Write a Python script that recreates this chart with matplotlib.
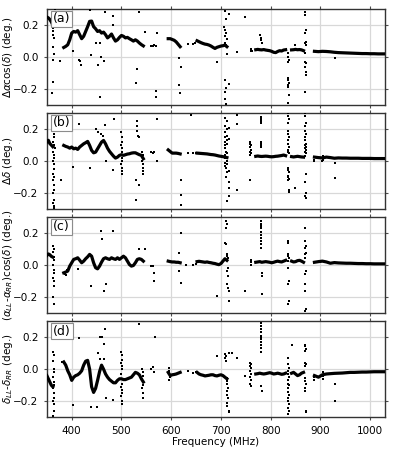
import numpy as np
import matplotlib
matplotlib.use('Agg')
import matplotlib.pyplot as plt

# Frequencies (MHz) of the continuous (dense) tracks; None separates segments
curve_freq = [350, 353, 356, 359, 362, None,
              384, 388, 392, 396, 400, 404, 408, 412, 416, 420, 424, 428, 432, 436,
              440, 444, 448, 452, 456, 460, 464, 468, 472, 476, 480, 484, 488, 492,
              496, 500, 504, 508, 512, 516, 520, 524, 528, 532, 536, 540, 544, None,
              594, 598, 602, 606, 610, 614, 618, None,
              652, 656, 660, 664, 668, 672, 676, 680, 684, 688, 692, 696, 700, 704, 708, 712, None,
              770, 774, 778, 782, 786, 790, 794, 798, 802, 806, 810, 814, 818, 822, 826, 830, None,
              842, 846, 850, 854, 858, 862, 866, None,
              888, 896, 904, 912, 920, 928, 936, 944, 952, 960, 968, 976, 984, 992, 1000,
              1008, 1016, 1024, 1028]

a_curve = [0.25, 0.245, 0.235, 0.22, 0.20, None,
           0.060, 0.067, 0.077, 0.108, 0.150, 0.160, 0.156, 0.165, 0.140, 0.115, 0.130, 0.160,
           0.190, 0.223, 0.225, 0.190, 0.177, 0.160, 0.165, 0.150, 0.156, 0.140, 0.120, 0.130,
           0.144, 0.120, 0.100, 0.108, 0.123, 0.135, 0.130, 0.120, 0.123, 0.115, 0.108, 0.100,
           0.108, 0.100, 0.088, 0.078, 0.070, None,
           0.115, 0.115, 0.110, 0.105, 0.095, 0.080, 0.065, None,
           0.102, 0.096, 0.090, 0.085, 0.081, 0.079, 0.075, 0.069, 0.061, 0.054, 0.061, 0.065,
           0.069, 0.071, 0.075, 0.065, None,
           0.046, 0.048, 0.046, 0.045, 0.047, 0.044, 0.042, 0.040, 0.036, 0.030, 0.028, 0.035,
           0.040, 0.038, 0.044, 0.046, None,
           0.045, 0.046, 0.048, 0.046, 0.047, 0.045, 0.040, None,
           0.036, 0.034, 0.036, 0.035, 0.033, 0.030, 0.028, 0.027, 0.026, 0.025, 0.024, 0.023,
           0.022, 0.022, 0.021, 0.021, 0.020, 0.020, 0.020]

b_curve = [0.12, 0.13, 0.11, 0.10, 0.09, None,
           0.098, 0.092, 0.088, 0.081, 0.088, 0.077, 0.081, 0.073, 0.088, 0.098, 0.108, 0.115,
           0.123, 0.098, 0.067, 0.052, 0.056, 0.077, 0.098, 0.119, 0.129, 0.108, 0.081, 0.061,
           0.046, 0.031, 0.019, 0.025, 0.036, 0.040, 0.036, 0.040, 0.044, 0.046, 0.050, 0.052,
           0.052, 0.046, 0.040, 0.036, 0.015, None,
           0.070, 0.060, 0.050, 0.050, 0.050, 0.048, 0.045, None,
           0.050, 0.049, 0.048, 0.047, 0.046, 0.045, 0.043, 0.041, 0.040, 0.038, 0.035, 0.032,
           0.030, 0.028, 0.025, 0.022, None,
           0.030, 0.032, 0.030, 0.029, 0.030, 0.031, 0.030, 0.028, 0.027, 0.028, 0.030, 0.031,
           0.033, 0.035, 0.038, 0.034, None,
           0.028, 0.026, 0.028, 0.030, 0.028, 0.026, 0.025, None,
           0.025, 0.022, 0.020, 0.025, 0.022, 0.018, 0.020, 0.019, 0.019, 0.018, 0.018, 0.018,
           0.017, 0.017, 0.017, 0.016, 0.016, 0.016, 0.016]

c_curve = [0.06, 0.07, 0.065, 0.055, 0.05, None,
           -0.048, -0.043, -0.037, -0.006, 0.015, 0.036, 0.040, 0.046, 0.031, 0.015, 0.025, 0.040,
           0.052, 0.067, 0.056, 0.015, -0.016, -0.023, -0.006, 0.019, 0.040, 0.046, 0.040, 0.036,
           0.046, 0.040, 0.036, 0.046, 0.036, 0.046, 0.056, 0.046, 0.025, 0.004, -0.006, -0.002,
           0.015, 0.036, 0.040, 0.036, 0.025, None,
           0.025, 0.022, 0.020, 0.020, 0.018, 0.018, 0.015, None,
           0.022, 0.024, 0.022, 0.020, 0.018, 0.020, 0.017, 0.015, 0.012, 0.010, 0.006, 0.003,
           0.010, 0.025, 0.040, 0.030, None,
           0.018, 0.020, 0.022, 0.018, 0.020, 0.022, 0.020, 0.018, 0.015, 0.018, 0.022, 0.025,
           0.022, 0.020, 0.025, 0.030, None,
           0.025, 0.020, 0.022, 0.028, 0.030, 0.025, 0.018, None,
           0.018, 0.022, 0.025, 0.020, 0.012, 0.016, 0.014, 0.013, 0.012, 0.012, 0.011, 0.010,
           0.010, 0.009, 0.009, 0.008, 0.008, 0.008, 0.008]

d_curve = [-0.04, -0.06, -0.08, -0.10, -0.11, None,
           0.045, 0.025, -0.010, -0.035, -0.070, -0.050, -0.040, -0.035, -0.025, -0.010, 0.025,
           0.050, 0.055, 0.000, -0.110, -0.145, -0.120, -0.070, -0.015, 0.025, 0.000, -0.030,
           -0.050, -0.065, -0.075, -0.085, -0.085, -0.070, -0.060, -0.060, -0.065, -0.065,
           -0.060, -0.055, -0.050, -0.035, -0.020, -0.025, -0.035, -0.060, -0.080, None,
           -0.020, -0.040, -0.035, -0.033, -0.030, -0.025, -0.020, None,
           -0.020, -0.030, -0.035, -0.038, -0.042, -0.040, -0.038, -0.035, -0.035, -0.040,
           -0.042, -0.038, -0.035, -0.040, -0.050, -0.060, None,
           -0.030, -0.028, -0.025, -0.028, -0.030, -0.028, -0.025, -0.022, -0.025, -0.030,
           -0.028, -0.025, -0.028, -0.032, -0.030, -0.025, None,
           -0.025, -0.020, -0.030, -0.040, -0.035, -0.025, -0.020, None,
           -0.040, -0.050, -0.035, -0.030, -0.028, -0.026, -0.025, -0.024, -0.022, -0.020,
           -0.020, -0.019, -0.018, -0.018, -0.017, -0.016, -0.016, -0.016, -0.016]

# Scattered points (frequency MHz, value deg.)
a_dots = [(362, 0.18), (363, 0.16), (363, 0.14), (364, 0.12), (363, 0.06), (364, 0.02),
          (363, -0.02), (362, -0.155), (361, -0.225), (366, 0.30), (377, -0.027), (403, 0.036),
          (415, -0.016), (416, -0.027), (419, -0.05), (436, 0.296), (466, 0.281), (483, 0.254),
          (483, 0.198), (535, 0.279), (439, 0.015), (449, 0.087), (456, 0.087), (453, -0.048),
          (459, 0.0), (465, -0.023), (457, -0.25), (531, -0.075), (530, -0.162), (548, 0.156),
          (571, 0.15), (569, -0.21), (569, -0.247), (560, 0.07), (563, 0.072), (566, 0.075),
          (569, 0.07), (616, -0.008), (619, -0.06), (616, -0.174), (618, -0.226), (633, 0.079),
          (643, 0.08), (648, 0.085),
          (708, 0.29), (716, 0.27), (710, 0.24), (707, 0.19), (709, 0.17), (711, 0.15),
          (708, 0.13), (712, 0.11), (709, 0.09), (710, 0.075), (712, 0.02), (709, -0.14),
          (716, -0.17), (710, -0.19), (708, -0.22), (709, -0.26), (710, -0.29),
          (693, -0.029), (733, 0.033), (749, 0.248), (760, 0.05), (761, 0.04), (762, 0.035),
          (779, 0.138), (780, 0.122), (781, 0.106), (782, 0.086),
          (834, 0.023), (835, 0.002), (836, -0.019), (835, -0.029), (834, -0.133), (835, -0.143),
          (836, -0.164), (835, -0.174), (834, -0.185), (836, -0.237), (835, -0.289),
          (849, 0.075),
          (869, 0.283), (868, 0.262), (870, 0.169), (869, 0.148), (871, 0.096), (869, 0.085),
          (870, 0.075), (868, 0.023), (869, -0.029), (870, -0.039), (869, -0.06), (871, -0.091),
          (870, -0.112), (869, -0.216), (929, -0.008)]

b_dots = [(363, 0.20), (364, 0.17), (365, 0.15), (363, 0.12), (364, 0.10), (366, 0.08),
          (363, 0.06), (365, 0.04), (364, 0.02), (363, 0.0), (365, -0.02), (364, -0.05),
          (363, -0.08), (364, -0.10), (363, -0.12), (365, -0.15), (364, -0.18), (363, -0.20),
          (364, -0.24), (363, -0.26), (364, -0.28), (365, -0.29), (378, -0.12),
          (415, 0.233), (448, 0.198), (466, 0.223), (485, 0.26), (531, 0.248), (531, 0.222),
          (532, 0.19), (533, 0.16), (535, 0.15), (571, 0.264), (453, 0.18), (459, 0.17),
          (463, 0.16), (403, -0.037), (437, -0.043), (468, 0.0), (483, -0.058),
          (500, 0.18), (501, 0.15), (502, 0.12), (500, 0.10), (501, 0.08), (502, 0.06),
          (500, 0.04), (501, 0.02), (502, 0.0), (500, -0.02), (501, -0.04), (502, -0.06),
          (501, -0.08), (529, -0.12), (529, -0.24), (535, -0.15), (571, 0.0),
          (542, 0.06), (543, 0.04), (544, 0.02), (542, 0.0), (543, -0.02), (544, -0.04),
          (543, -0.06), (544, -0.08), (560, 0.06), (563, 0.05), (566, 0.055),
          (619, -0.118), (619, -0.211), (619, -0.274), (639, 0.288), (633, 0.048), (643, 0.048),
          (650, 0.048),
          (708, 0.27), (712, 0.25), (709, 0.22), (716, 0.21), (712, 0.20), (708, 0.18),
          (712, 0.16), (709, 0.15), (716, 0.14), (712, 0.13), (708, 0.12), (712, 0.11),
          (709, 0.10), (708, 0.08), (710, 0.06), (712, 0.05), (709, 0.04), (708, 0.02),
          (712, 0.0), (709, -0.01), (712, -0.02), (708, -0.03), (711, -0.04), (716, -0.06),
          (712, -0.07), (711, -0.10), (716, -0.13), (716, -0.17), (716, -0.22), (713, -0.25),
          (733, 0.29), (733, 0.23), (733, -0.18), (693, 0.03),
          (759, 0.12), (759, 0.11), (760, 0.10), (759, 0.09), (760, 0.07), (759, 0.06),
          (760, 0.05), (759, 0.04), (759, -0.118),
          (780, 0.277), (781, 0.267), (780, 0.257), (781, 0.246), (780, 0.236), (781, 0.12),
          (780, 0.11), (781, 0.10), (780, 0.09),
          (835, 0.30), (834, 0.28), (836, 0.26), (835, 0.24), (834, 0.19), (835, 0.17),
          (836, 0.15), (834, 0.13), (835, 0.11), (836, 0.09), (835, 0.07), (834, 0.06),
          (836, 0.05), (834, -0.045), (835, -0.055), (836, -0.066), (834, -0.09), (835, -0.10),
          (836, -0.11), (835, -0.12), (837, -0.18), (836, -0.19), (849, -0.17),
          (869, 0.30), (868, 0.28), (870, 0.24), (869, 0.22), (868, 0.19), (870, 0.17),
          (869, 0.15), (868, 0.13), (870, 0.11), (869, 0.10), (871, 0.09), (868, 0.08),
          (870, 0.07), (869, 0.06), (871, 0.05), (869, 0.03), (870, -0.08), (869, -0.13),
          (870, -0.20), (869, -0.22), (871, -0.23),
          (929, -0.014), (929, -0.107), (888, 0.0), (888, 0.01), (903, 0.0), (905, 0.035),
          (906, 0.005)]

c_dots = [(363, 0.12), (364, 0.10), (363, 0.08), (365, 0.05), (364, 0.03), (363, 0.0),
          (365, -0.03), (364, -0.05), (363, -0.08), (365, -0.10), (364, -0.13), (363, -0.20),
          (364, -0.245), (399, 0.275), (458, 0.212), (461, 0.165), (483, 0.212), (536, 0.098),
          (548, 0.104), (438, -0.131), (468, -0.12), (465, -0.162), (566, -0.048), (566, -0.10),
          (412, -0.027), (388, -0.06), (386, -0.055), (390, -0.03), (560, -0.006), (563, -0.005),
          (619, 0.2), (616, 0.077), (616, -0.037), (619, -0.11), (629, 0.004), (643, 0.004),
          (650, 0.01),
          (710, 0.275), (712, 0.254), (711, 0.233), (709, 0.14), (710, 0.13), (712, 0.067),
          (713, 0.056), (714, 0.046), (715, -0.016), (713, -0.037), (714, -0.068), (712, -0.12),
          (714, -0.141), (716, -0.162), (716, -0.224),
          (749, -0.162), (693, -0.193), (760, 0.02), (760, 0.0), (761, 0.035),
          (780, 0.275), (781, 0.26), (780, 0.245), (781, 0.23), (780, 0.21), (781, 0.19),
          (780, 0.17), (781, 0.15), (780, 0.13), (781, 0.11), (782, -0.047), (783, -0.068),
          (782, -0.183),
          (834, 0.15), (835, 0.14), (834, 0.067), (835, 0.056), (836, 0.046), (834, 0.025),
          (835, -0.016), (836, -0.10), (835, -0.12), (836, -0.224), (835, -0.245),
          (869, 0.233), (868, 0.15), (870, 0.12), (869, 0.11), (870, 0.077), (869, 0.067),
          (868, 0.046), (870, -0.037), (869, -0.058), (868, -0.12), (869, -0.162),
          (870, -0.276), (869, -0.287)]

d_dots = [(363, 0.108), (364, 0.09), (363, 0.05), (365, 0.0), (364, -0.02), (363, -0.05),
          (365, -0.08), (364, -0.10), (363, -0.12), (365, -0.15), (364, -0.18), (363, -0.20),
          (365, -0.22), (364, -0.26), (363, -0.29), (381, 0.046), (466, 0.254), (456, 0.2),
          (460, 0.2), (465, 0.16), (535, 0.285), (568, 0.198), (415, 0.192), (453, 0.098),
          (456, 0.065), (465, 0.065), (438, -0.235), (451, -0.239), (468, -0.183),
          (483, -0.193), (403, -0.225), (543, -0.183), (563, 0.015), (566, -0.015), (560, 0.0),
          (500, 0.11), (501, 0.09), (502, 0.06), (500, 0.04), (501, 0.02), (502, 0.0),
          (500, -0.03), (501, -0.06), (502, -0.09), (500, -0.11), (501, -0.13), (502, -0.15),
          (500, -0.17), (501, -0.20), (502, -0.22),
          (542, 0.0), (543, -0.02), (544, -0.04), (542, -0.06), (543, -0.08), (544, -0.10),
          (542, -0.12), (543, -0.15), (544, -0.18),
          (596, 0.008), (596, -0.01), (597, -0.05), (596, -0.065), (633, -0.012), (643, -0.022),
          (650, -0.02),
          (709, 0.092), (710, 0.08), (708, 0.071), (711, 0.05), (712, -0.054), (713, -0.075),
          (712, -0.095), (714, -0.116), (713, -0.137), (712, -0.16), (714, -0.18), (713, -0.21),
          (712, -0.23), (716, -0.26), (717, -0.27),
          (693, 0.08), (733, 0.071), (716, 0.1), (723, 0.1),
          (759, 0.04), (760, 0.03), (759, 0.02), (760, 0.01), (759, -0.01), (760, -0.03),
          (759, -0.05), (760, -0.07), (759, -0.09), (760, -0.106),
          (780, 0.29), (781, 0.27), (780, 0.25), (781, 0.23), (780, 0.21), (781, 0.20),
          (780, 0.19), (781, 0.17), (780, 0.15), (781, 0.13), (780, 0.11), (781, -0.106),
          (782, -0.137), (843, 0.154), (869, 0.144),
          (834, 0.07), (835, 0.03), (836, 0.01), (834, -0.01), (835, -0.03), (836, -0.05),
          (834, -0.07), (835, -0.09), (836, -0.10), (834, -0.12), (835, -0.14), (836, -0.16),
          (834, -0.18), (835, -0.20), (836, -0.22), (835, -0.24), (836, -0.26), (835, -0.28),
          (869, 0.154), (870, 0.125), (868, 0.113), (869, 0.04), (870, 0.03), (869, 0.02),
          (868, -0.054), (869, -0.075), (870, -0.095), (869, -0.116), (868, -0.137),
          (870, -0.26), (871, -0.27),
          (929, -0.095), (929, -0.2), (749, -0.044), (888, -0.05), (888, -0.07), (905, -0.02),
          (905, -0.04), (906, -0.06)]

panel_tags = ['(a)', '(b)', '(c)', '(d)']
y_labels = [r'$\Delta\alpha\cos(\delta)$ (deg.)',
            r'$\Delta\delta$ (deg.)',
            r'$(\alpha_{LL}$-$\alpha_{RR})\cos(\delta)$ (deg.)',
            r'$\delta_{LL}$-$\delta_{RR}$ (deg.)']
x_ticks = [400, 500, 600, 700, 800, 900, 1000]
y_ticks = [-0.2, 0.0, 0.2]

curves = [a_curve, b_curve, c_curve, d_curve]
dots = [a_dots, b_dots, c_dots, d_dots]

fs = 7.5
fig, axes = plt.subplots(4, 1, figsize=(3.97, 4.53), dpi=100, sharex=True)
fig.subplots_adjust(left=0.118, right=0.970, top=0.980, bottom=0.079, hspace=0.083)

cf = np.array(curve_freq, dtype=float)
for ax, cv, dt, tag, yl in zip(axes, curves, dots, panel_tags, y_labels):
    ax.plot(cf, np.array(cv, dtype=float), color='k', lw=2.3, zorder=3)
    df = [p[0] for p in dt]
    dv = [p[1] for p in dt]
    ax.plot(df, dv, 's', color='k', ms=1.5, mew=0, zorder=3)
    ax.set_xlim(350, 1030)
    ax.set_ylim(-0.3, 0.3)
    ax.set_yticks(y_ticks)
    ax.set_xticks(x_ticks)
    ax.grid(True, color='#d8d8d8', lw=0.9, zorder=0)
    ax.set_axisbelow(True)
    ax.tick_params(direction='out', top=True, right=True, labelsize=fs, length=2.5,
                   width=0.8, color='0.3')
    for s in ax.spines.values():
        s.set_color('0.2')
        s.set_linewidth(1.0)
    ax.set_ylabel(yl, fontsize=fs)
    ax.yaxis.set_label_coords(-0.095, 0.5)
    ax.text(0.018, 0.965, tag, transform=ax.transAxes, ha='left', va='top', fontsize=9,
            bbox=dict(facecolor='white', edgecolor='0.55', boxstyle='square,pad=0.15', lw=0.8),
            zorder=5)

axes[-1].set_xlabel('Frequency (MHz)', fontsize=fs, labelpad=1)

fig.savefig('out.png', dpi=100)
